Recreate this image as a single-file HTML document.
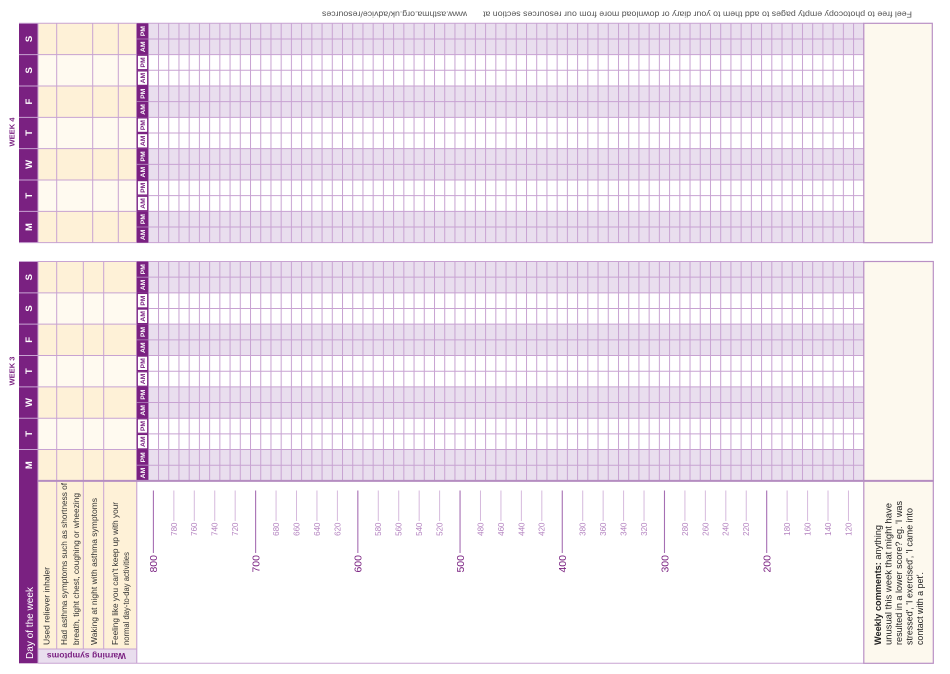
<!DOCTYPE html>
<html><head><meta charset="utf-8">
<style>html,body{margin:0;padding:0;background:#fff;}svg{display:block}</style>
</head>
<body>
<svg width="950" height="674" viewBox="0 0 950 674" xmlns="http://www.w3.org/2000/svg" font-family="'Liberation Sans', sans-serif">
<defs>
<pattern id="vg" x="147.8" y="0" width="10.2214" height="20" patternUnits="userSpaceOnUse"><rect x="0" y="0" width="1" height="20" fill="#c8a3d2"/></pattern>
</defs>
<rect width="950" height="674" fill="#fff"/>

<!-- top note (upside down) -->
<text transform="translate(912,11.7) rotate(180)" font-size="8" fill="#555" textLength="429" lengthAdjust="spacingAndGlyphs">Feel free to photocopy empty pages to add them to your diary or download more from our resources section at</text>
<text transform="translate(467,11.7) rotate(180)" font-size="8" fill="#555" textLength="145" lengthAdjust="spacingAndGlyphs">www.asthma.org.uk/advice/resources</text>

<!-- ================= WEEK 4 ================= -->
<rect x="38" y="23.3" width="98.7" height="219.38" fill="#fffaf0"/>
<rect x="38" y="23.3" width="98.7" height="31.34" fill="#fef1d7"/>
<rect x="38" y="85.98" width="98.7" height="31.34" fill="#fef1d7"/>
<rect x="38" y="148.66" width="98.7" height="31.34" fill="#fef1d7"/>
<rect x="38" y="211.34" width="98.7" height="31.34" fill="#fef1d7"/>
<rect x="136.7" y="23.3" width="727" height="31.34" fill="#e9deee"/>
<rect x="136.7" y="85.98" width="727" height="31.34" fill="#e9deee"/>
<rect x="136.7" y="148.66" width="727" height="31.34" fill="#e9deee"/>
<rect x="136.7" y="211.34" width="727" height="31.34" fill="#e9deee"/>
<rect x="19" y="23.3" width="19" height="219.38" fill="#7a2181"/>
<rect x="147.8" y="23.3" width="716.5" height="219.38" fill="url(#vg)"/>
<path d="M136.7 23.3H863.8M136.7 38.97H863.8M136.7 54.64H863.8M136.7 70.31H863.8M136.7 85.98H863.8M136.7 101.65H863.8M136.7 117.32H863.8M136.7 132.99H863.8M136.7 148.66H863.8M136.7 164.33H863.8M136.7 180H863.8M136.7 195.67H863.8M136.7 211.34H863.8M136.7 227.01H863.8M136.7 242.68H863.8" stroke="#c8a3d2" stroke-width="1" fill="none"/>
<path d="M19 23.3H136.7M19 54.64H136.7M19 85.98H136.7M19 117.32H136.7M19 148.66H136.7M19 180H136.7M19 211.34H136.7M19 242.68H136.7" stroke="#c8a3d2" stroke-width="1" fill="none"/>
<path d="M38 23.3V242.68M56.7 23.3V242.68M92.7 23.3V242.68M118.3 23.3V242.68M136.7 23.3V242.68" stroke="#c8a3d2" stroke-width="1" fill="none"/>
<!-- AM/PM week 4 -->
<rect x="136.7" y="23.3" width="11.6" height="31.34" fill="#7a2181"/>
<rect x="136.7" y="85.98" width="11.6" height="31.34" fill="#7a2181"/>
<rect x="136.7" y="148.66" width="11.6" height="31.34" fill="#7a2181"/>
<rect x="136.7" y="211.34" width="11.6" height="31.34" fill="#7a2181"/>
<path d="M136.7 38.97H148.3M136.7 101.65H148.3M136.7 164.33H148.3M136.7 227.01H148.3" stroke="#b48ac0" stroke-width="0.8"/>
<g fill="#fff" stroke="#7a2181" stroke-width="1.2">
<rect x="137.3" y="55.24" width="10.4" height="14.47"/><rect x="137.3" y="70.91" width="10.4" height="14.47"/>
<rect x="137.3" y="117.92" width="10.4" height="14.47"/><rect x="137.3" y="133.59" width="10.4" height="14.47"/>
<rect x="137.3" y="180.6" width="10.4" height="14.47"/><rect x="137.3" y="196.27" width="10.4" height="14.47"/>
</g>
<rect x="863.8" y="23.3" width="68.5" height="219.38" fill="#fdf9ee" stroke="#b990c5" stroke-width="1.2"/>
<g font-size="6.8" font-weight="bold" text-anchor="middle">
<text transform="translate(145,31.14) rotate(-90)" fill="#fff">PM</text>
<text transform="translate(145,46.81) rotate(-90)" fill="#fff">AM</text>
<text transform="translate(145,62.48) rotate(-90)" fill="#7a2181">PM</text>
<text transform="translate(145,78.15) rotate(-90)" fill="#7a2181">AM</text>
<text transform="translate(145,93.82) rotate(-90)" fill="#fff">PM</text>
<text transform="translate(145,109.49) rotate(-90)" fill="#fff">AM</text>
<text transform="translate(145,125.16) rotate(-90)" fill="#7a2181">PM</text>
<text transform="translate(145,140.83) rotate(-90)" fill="#7a2181">AM</text>
<text transform="translate(145,156.5) rotate(-90)" fill="#fff">PM</text>
<text transform="translate(145,172.17) rotate(-90)" fill="#fff">AM</text>
<text transform="translate(145,187.84) rotate(-90)" fill="#7a2181">PM</text>
<text transform="translate(145,203.51) rotate(-90)" fill="#7a2181">AM</text>
<text transform="translate(145,219.18) rotate(-90)" fill="#fff">PM</text>
<text transform="translate(145,234.85) rotate(-90)" fill="#fff">AM</text>
</g>
<g font-size="9.5" font-weight="bold" text-anchor="middle" fill="#fff">
<text transform="translate(31.9,38.97) rotate(-90)">S</text>
<text transform="translate(31.9,70.31) rotate(-90)">S</text>
<text transform="translate(31.9,101.65) rotate(-90)">F</text>
<text transform="translate(31.9,132.99) rotate(-90)">T</text>
<text transform="translate(31.9,164.33) rotate(-90)">W</text>
<text transform="translate(31.9,195.67) rotate(-90)">T</text>
<text transform="translate(31.9,227.01) rotate(-90)">M</text>
</g>
<text transform="translate(14.5,132) rotate(-90)" font-size="7" font-weight="bold" fill="#7a2181" text-anchor="middle" textLength="29" lengthAdjust="spacingAndGlyphs">WEEK 4</text>

<!-- ================= WEEK 3 ================= -->
<rect x="38" y="261.5" width="98.7" height="219.38" fill="#fffaf0"/>
<rect x="38" y="261.5" width="98.7" height="31.34" fill="#fef1d7"/>
<rect x="38" y="324.18" width="98.7" height="31.34" fill="#fef1d7"/>
<rect x="38" y="386.86" width="98.7" height="31.34" fill="#fef1d7"/>
<rect x="38" y="449.54" width="98.7" height="31.34" fill="#fef1d7"/>
<rect x="136.7" y="261.5" width="727" height="31.34" fill="#e9deee"/>
<rect x="136.7" y="324.18" width="727" height="31.34" fill="#e9deee"/>
<rect x="136.7" y="386.86" width="727" height="31.34" fill="#e9deee"/>
<rect x="136.7" y="449.54" width="727" height="31.34" fill="#e9deee"/>
<rect x="19" y="261.5" width="19" height="401.8" fill="#7a2181"/>
<rect x="147.8" y="261.5" width="716.5" height="219.38" fill="url(#vg)"/>
<path d="M136.7 261.5H863.8M136.7 277.17H863.8M136.7 292.84H863.8M136.7 308.51H863.8M136.7 324.18H863.8M136.7 339.85H863.8M136.7 355.52H863.8M136.7 371.19H863.8M136.7 386.86H863.8M136.7 402.53H863.8M136.7 418.2H863.8M136.7 433.87H863.8M136.7 449.54H863.8M136.7 465.21H863.8" stroke="#c8a3d2" stroke-width="1" fill="none"/>
<path d="M19 261.5H136.7M19 292.84H136.7M19 324.18H136.7M19 355.52H136.7M19 386.86H136.7M19 418.2H136.7M19 449.54H136.7" stroke="#c8a3d2" stroke-width="1" fill="none"/>
<path d="M38 261.5V663.3M56.7 261.5V649M83.3 261.5V649M103.7 261.5V649M136.7 261.5V663.3" stroke="#c8a3d2" stroke-width="1" fill="none"/>
<!-- AM/PM week 3 -->
<rect x="136.7" y="261.5" width="11.6" height="31.34" fill="#7a2181"/>
<rect x="136.7" y="324.18" width="11.6" height="31.34" fill="#7a2181"/>
<rect x="136.7" y="386.86" width="11.6" height="31.34" fill="#7a2181"/>
<rect x="136.7" y="449.54" width="11.6" height="31.34" fill="#7a2181"/>
<path d="M136.7 277.17H148.3M136.7 339.85H148.3M136.7 402.53H148.3M136.7 465.21H148.3" stroke="#b48ac0" stroke-width="0.8"/>
<g fill="#fff" stroke="#7a2181" stroke-width="1.2">
<rect x="137.3" y="293.44" width="10.4" height="14.47"/><rect x="137.3" y="309.11" width="10.4" height="14.47"/>
<rect x="137.3" y="356.12" width="10.4" height="14.47"/><rect x="137.3" y="371.79" width="10.4" height="14.47"/>
<rect x="137.3" y="418.8" width="10.4" height="14.47"/><rect x="137.3" y="434.47" width="10.4" height="14.47"/>
</g>
<rect x="863.8" y="261.5" width="69.5" height="219.38" fill="#fdf9ee" stroke="#b990c5" stroke-width="1.2"/>
<g font-size="6.8" font-weight="bold" text-anchor="middle">
<text transform="translate(145,269.34) rotate(-90)" fill="#fff">PM</text>
<text transform="translate(145,285.01) rotate(-90)" fill="#fff">AM</text>
<text transform="translate(145,300.68) rotate(-90)" fill="#7a2181">PM</text>
<text transform="translate(145,316.35) rotate(-90)" fill="#7a2181">AM</text>
<text transform="translate(145,332.02) rotate(-90)" fill="#fff">PM</text>
<text transform="translate(145,347.69) rotate(-90)" fill="#fff">AM</text>
<text transform="translate(145,363.36) rotate(-90)" fill="#7a2181">PM</text>
<text transform="translate(145,379.03) rotate(-90)" fill="#7a2181">AM</text>
<text transform="translate(145,394.7) rotate(-90)" fill="#fff">PM</text>
<text transform="translate(145,410.37) rotate(-90)" fill="#fff">AM</text>
<text transform="translate(145,426.04) rotate(-90)" fill="#7a2181">PM</text>
<text transform="translate(145,441.71) rotate(-90)" fill="#7a2181">AM</text>
<text transform="translate(145,457.38) rotate(-90)" fill="#fff">PM</text>
<text transform="translate(145,473.05) rotate(-90)" fill="#fff">AM</text>
</g>
<g font-size="9.5" font-weight="bold" text-anchor="middle" fill="#fff">
<text transform="translate(31.9,277.17) rotate(-90)">S</text>
<text transform="translate(31.9,308.51) rotate(-90)">S</text>
<text transform="translate(31.9,339.85) rotate(-90)">F</text>
<text transform="translate(31.9,371.19) rotate(-90)">T</text>
<text transform="translate(31.9,402.53) rotate(-90)">W</text>
<text transform="translate(31.9,433.87) rotate(-90)">T</text>
<text transform="translate(31.9,465.21) rotate(-90)">M</text>
</g>
<text transform="translate(14.5,371) rotate(-90)" font-size="7" font-weight="bold" fill="#7a2181" text-anchor="middle" textLength="29" lengthAdjust="spacingAndGlyphs">WEEK 3</text>

<!-- ================= HEADER SECTION ================= -->
<rect x="38" y="481.5" width="98.7" height="167.5" fill="#fef1d7"/>
<rect x="38" y="649" width="98.7" height="14.3" fill="#e9deee"/>
<path d="M56.7 481V649M83.3 481V649M103.7 481V649M136.7 481V663.3M38 481V663.3" stroke="#c8a3d2" stroke-width="1" fill="none"/>
<path d="M38 649H136.7M38 663.3H863.8" stroke="#c8a3d2" stroke-width="1" fill="none"/>
<path d="M38 480.88H863.8" stroke="#b58dc1" stroke-width="2"/>
<rect x="863.8" y="480.88" width="69.5" height="182.42" fill="#fdf9ee" stroke="#b990c5" stroke-width="1.2"/>
<path d="M863.8 480.88H933.3" stroke="#b58dc1" stroke-width="2"/>

<text transform="translate(32.8,659) rotate(-90)" font-size="10.5" fill="#fff" textLength="72" lengthAdjust="spacingAndGlyphs">Day of the week</text>

<g font-size="8.5" fill="#333">
<text transform="translate(49.7,645) rotate(-90)" textLength="78" lengthAdjust="spacingAndGlyphs">Used reliever inhaler</text>
<text transform="translate(67.2,645) rotate(-90)" textLength="162" lengthAdjust="spacingAndGlyphs">Had asthma symptoms such as shortness of</text>
<text transform="translate(78.9,645) rotate(-90)" textLength="152" lengthAdjust="spacingAndGlyphs">breath, tight chest, coughing or wheezing</text>
<text transform="translate(97.2,645) rotate(-90)" textLength="147" lengthAdjust="spacingAndGlyphs">Waking at night with asthma symptoms</text>
<text transform="translate(118,645) rotate(-90)" textLength="143" lengthAdjust="spacingAndGlyphs">Feeling like you can't keep up with your</text>
<text transform="translate(129,645) rotate(-90)" textLength="93" lengthAdjust="spacingAndGlyphs">normal day-to-day activities</text>
</g>
<text transform="translate(86.4,653) rotate(180)" font-size="8.5" font-weight="bold" fill="#7a2181" text-anchor="middle" textLength="79" lengthAdjust="spacingAndGlyphs">Warning symptoms</text>

<!-- ticks -->
<path d="M173.85 490.5V521M194.3 490.5V521M214.74 490.5V521M235.18 490.5V521M276.07 490.5V521M296.51 490.5V521M316.95 490.5V521M337.4 490.5V521M378.28 490.5V521M398.72 490.5V521M419.17 490.5V521M439.61 490.5V521M480.49 490.5V521M500.94 490.5V521M521.38 490.5V521M541.82 490.5V521M582.71 490.5V521M603.15 490.5V521M623.59 490.5V521M644.04 490.5V521M684.92 490.5V521M705.36 490.5V521M725.81 490.5V521M746.25 490.5V521M787.13 490.5V521M807.58 490.5V521M828.02 490.5V521M848.46 490.5V521" stroke="#d6badd" stroke-width="1"/>
<path d="M153.41 490.5V553M255.62 490.5V553M357.84 490.5V553M460.05 490.5V553M562.27 490.5V553M664.48 490.5V553M766.69 490.5V553" stroke="#a66fb3" stroke-width="1.1"/>
<g font-size="8" fill="#b483c0" text-anchor="end">
<text transform="translate(176.75,522.5) rotate(-90)">780</text>
<text transform="translate(197.2,522.5) rotate(-90)">760</text>
<text transform="translate(217.64,522.5) rotate(-90)">740</text>
<text transform="translate(238.08,522.5) rotate(-90)">720</text>
<text transform="translate(278.97,522.5) rotate(-90)">680</text>
<text transform="translate(299.41,522.5) rotate(-90)">660</text>
<text transform="translate(319.85,522.5) rotate(-90)">640</text>
<text transform="translate(340.3,522.5) rotate(-90)">620</text>
<text transform="translate(381.18,522.5) rotate(-90)">580</text>
<text transform="translate(401.62,522.5) rotate(-90)">560</text>
<text transform="translate(422.07,522.5) rotate(-90)">540</text>
<text transform="translate(442.51,522.5) rotate(-90)">520</text>
<text transform="translate(483.39,522.5) rotate(-90)">480</text>
<text transform="translate(503.84,522.5) rotate(-90)">460</text>
<text transform="translate(524.28,522.5) rotate(-90)">440</text>
<text transform="translate(544.72,522.5) rotate(-90)">420</text>
<text transform="translate(585.61,522.5) rotate(-90)">380</text>
<text transform="translate(606.05,522.5) rotate(-90)">360</text>
<text transform="translate(626.49,522.5) rotate(-90)">340</text>
<text transform="translate(646.94,522.5) rotate(-90)">320</text>
<text transform="translate(687.82,522.5) rotate(-90)">280</text>
<text transform="translate(708.26,522.5) rotate(-90)">260</text>
<text transform="translate(728.71,522.5) rotate(-90)">240</text>
<text transform="translate(749.15,522.5) rotate(-90)">220</text>
<text transform="translate(790.03,522.5) rotate(-90)">180</text>
<text transform="translate(810.48,522.5) rotate(-90)">160</text>
<text transform="translate(830.92,522.5) rotate(-90)">140</text>
<text transform="translate(851.36,522.5) rotate(-90)">120</text>
</g>
<g font-size="10.5" fill="#7a2181" text-anchor="end">
<text transform="translate(157.21,555) rotate(-90)">800</text>
<text transform="translate(259.42,555) rotate(-90)">700</text>
<text transform="translate(361.64,555) rotate(-90)">600</text>
<text transform="translate(463.85,555) rotate(-90)">500</text>
<text transform="translate(566.07,555) rotate(-90)">400</text>
<text transform="translate(668.28,555) rotate(-90)">300</text>
<text transform="translate(770.49,555) rotate(-90)">200</text>
</g>

<!-- weekly comments -->
<g font-size="9" fill="#222">
<text transform="translate(880.8,645) rotate(-90)" textLength="120" lengthAdjust="spacingAndGlyphs"><tspan font-weight="bold">Weekly comments:</tspan> anything</text>
<text transform="translate(891.4,645) rotate(-90)" textLength="142" lengthAdjust="spacingAndGlyphs">unusual this week that might have</text>
<text transform="translate(901.9,645) rotate(-90)" textLength="144" lengthAdjust="spacingAndGlyphs">resulted in a lower score? eg. 'I was</text>
<text transform="translate(912.5,645) rotate(-90)" textLength="137" lengthAdjust="spacingAndGlyphs">stressed', 'I exercised', 'I came into</text>
<text transform="translate(923,645) rotate(-90)" textLength="73" lengthAdjust="spacingAndGlyphs">contact with a pet'.</text>
</g>
</svg>
</body></html>
